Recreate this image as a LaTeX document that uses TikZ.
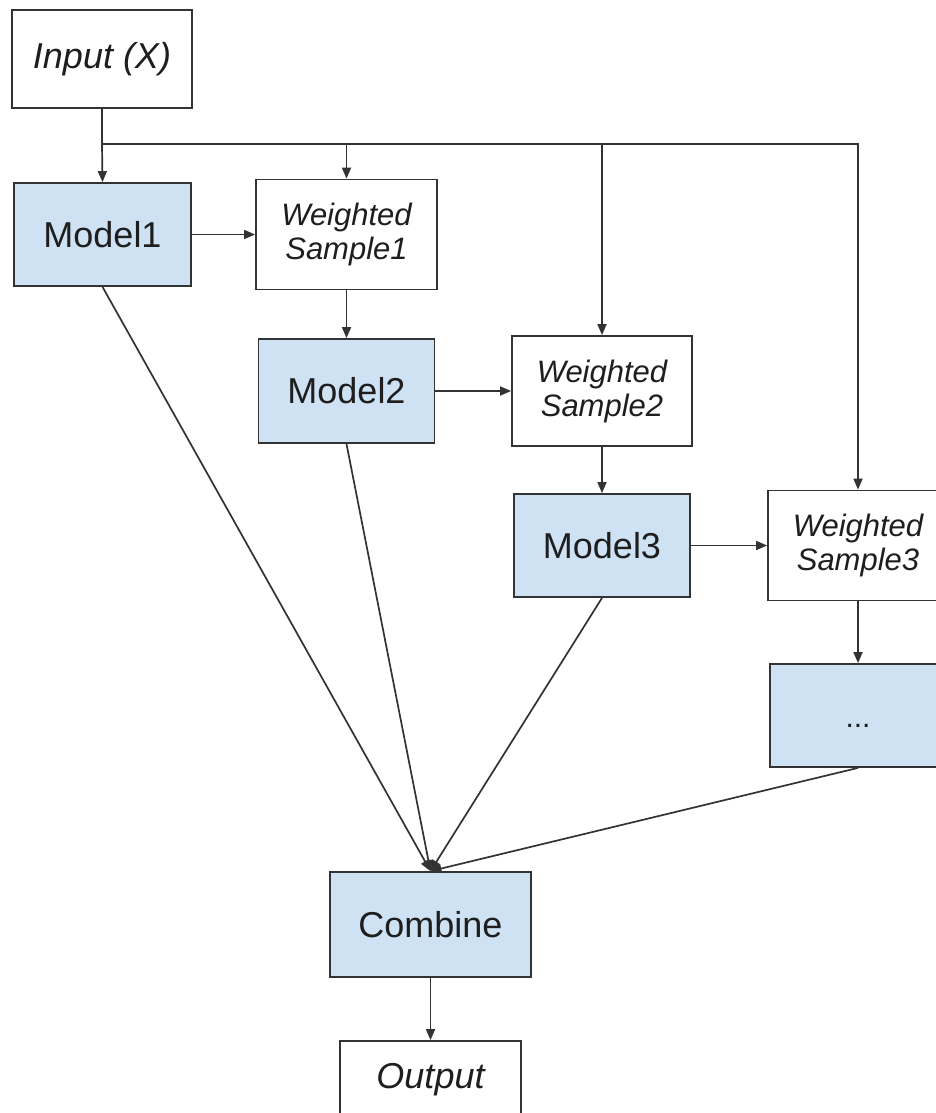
\documentclass[tikz,border=0pt]{standalone}
\usepackage{fontspec}
\setmainfont{Liberation Sans}
\usetikzlibrary{arrows.meta}
\definecolor{boxfill}{HTML}{CFE2F3}
\definecolor{edge}{HTML}{333333}
\definecolor{ink}{HTML}{1E1E1E}
\tikzset{
  box/.style={draw=edge, line width=1.8pt, rectangle, inner sep=0pt, text=ink,
    minimum width=178pt, minimum height=103pt},
  modelbox/.style={box, fill=boxfill, font=\fontsize{36}{40}\selectfont},
  samplebox/.style={box, fill=white, align=center, minimum height=110pt,
    font=\fontsize{31}{34}\selectfont\itshape},
  iobox/.style={box, fill=white, font=\fontsize{36}{40}\selectfont\itshape},
  arr/.style={draw=edge, line width=1.7pt, -{Triangle[length=11pt,width=9pt]}},
  plain/.style={draw=edge, line width=1.7pt}
}
\begin{document}
\begin{tikzpicture}[x=1pt,y=-1pt]
  \clip (0,0) rectangle (936,1113);
  \fill[white] (0,0) rectangle (936,1113);

  % input and the first model
  \node[iobox, minimum width=180pt, minimum height=98pt] (in) at (102,59) {Input (X)};
  \node[modelbox, minimum width=177pt] (m1) at (102.5,234.5) {Model1};

  % alternating weighted samples and models
  \node[samplebox, minimum width=181pt] (ws1) at (346.5,234.5) {Weighted\\Sample1};
  \node[modelbox, minimum width=176pt, minimum height=104pt] (m2) at (346.5,391) {Model2};
  \node[samplebox, minimum width=180pt] (ws2) at (602,391) {Weighted\\Sample2};
  \node[modelbox, minimum width=176pt] (m3) at (602,545.5) {Model3};
  \node[samplebox, minimum width=180pt] (ws3) at (858,545.5) {Weighted\\Sample3};
  \node[modelbox, minimum width=176pt,
        label={[font=\fontsize{30}{34}\selectfont, text=ink, yshift=-10pt]center:...}]
        (more) at (858,715.5) {};

  % combination and result
  \node[modelbox, minimum width=201pt, minimum height=105pt] (comb) at (430.5,924.5) {Combine};
  \node[iobox, minimum width=181pt, minimum height=78pt] (out) at (430.5,1080) {Output};

  % the input is distributed to the first model and every sample
  \coordinate (j) at (102,144);
  \draw[plain] (in.south) -- (j);
  \draw[arr] (j) -- (m1.north);
  \draw[arr] (j) -| (ws3.north);
  \draw[arr] (j -| ws1.north) -- (ws1.north);
  \draw[arr] (j -| ws2.north) -- (ws2.north);

  % chain
  \draw[arr] (m1.east) -- (m1.east -| ws1.west);
  \draw[arr] (ws1.south) -- (m2.north);
  \draw[arr] (m2.east) -- (m2.east -| ws2.west);
  \draw[arr] (ws2.south) -- (m3.north);
  \draw[arr] (m3.east) -- (m3.east -| ws3.west);
  \draw[arr] (ws3.south) -- (more.north);

  % all models feed the combiner
  \draw[arr] (m1.south) -- (comb.north);
  \draw[arr] (m2.south) -- (comb.north);
  \draw[arr] (m3.south) -- (comb.north);
  \draw[arr] (more.south) -- (comb.north);
  \draw[arr] (comb.south) -- (out.north);
\end{tikzpicture}
\end{document}
